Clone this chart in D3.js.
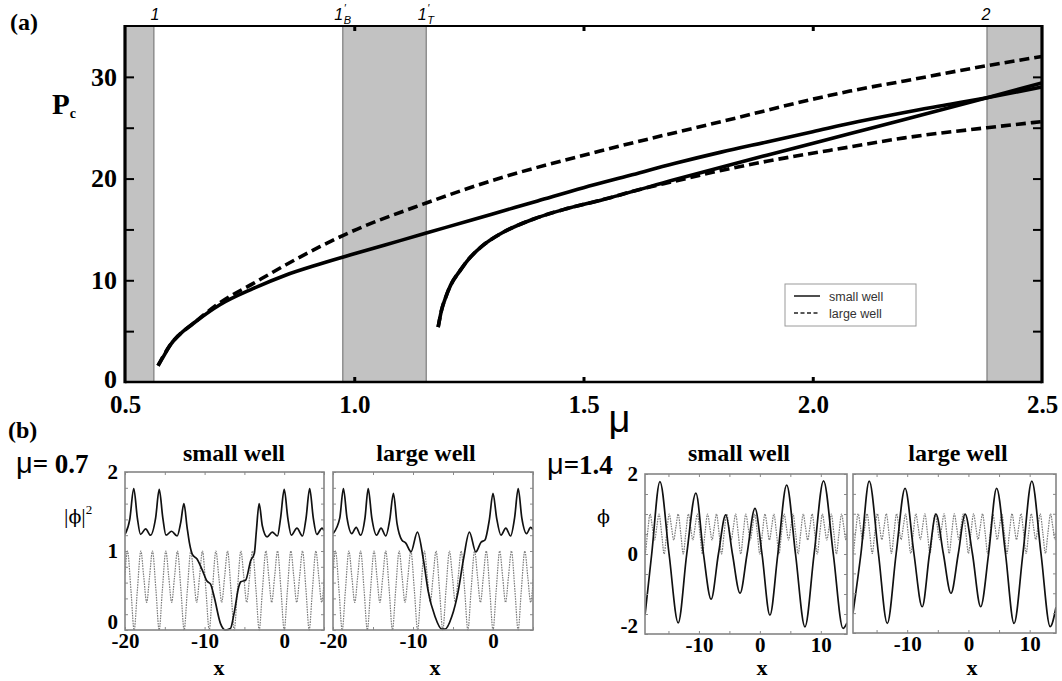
<!DOCTYPE html>
<html><head><meta charset="utf-8">
<script src="https://cdn.jsdelivr.net/npm/d3@7"></script>
<style>
body{margin:0;background:#fff;}
svg{display:block;}
</style></head><body>
<svg id="fig" width="1062" height="681"></svg>
<script>
// ---------- panel (a): critical power P_c against chemical potential mu ----------
const muSmall1 = [0.572, 0.585, 0.598, 0.62, 0.653, 0.707, 0.78, 0.85, 0.925, 1.0, 1.1, 1.2, 1.3, 1.4, 1.5, 1.6, 1.7, 1.8, 1.9, 2.0, 2.1, 2.2, 2.3, 2.38, 2.5];
const pcSmall1 = [1.6, 2.6, 3.6, 4.7, 5.9, 7.6, 9.2, 10.5, 11.6, 12.6, 13.9, 15.2, 16.5, 17.8, 19.1, 20.3, 21.5, 22.6, 23.6, 24.6, 25.6, 26.5, 27.3, 27.95, 29.0];
const muSmall2 = [1.183, 1.19, 1.2, 1.21, 1.23, 1.25, 1.28, 1.32, 1.39, 1.46, 1.54, 1.7, 1.9, 2.08, 2.2, 2.38, 2.5];
const pcSmall2 = [5.4, 7.0, 8.4, 9.5, 10.9, 12.1, 13.4, 14.6, 16.0, 17.0, 17.9, 19.9, 22.3, 24.4, 25.8, 27.95, 29.4];
const muLarge1 = [0.572, 0.598, 0.653, 0.707, 0.78, 0.85, 0.925, 0.975, 1.157, 1.3, 1.536, 1.8, 2.081, 2.2, 2.38, 2.5];
const pcLarge1 = [1.6, 3.6, 5.9, 7.8, 9.7, 11.5, 13.3, 14.4, 17.6, 19.8, 22.7, 25.6, 28.6, 29.6, 31.1, 32.0];
const muLarge2 = [1.183, 1.19, 1.2, 1.21, 1.23, 1.25, 1.28, 1.32, 1.39, 1.46, 1.54, 1.62, 1.7, 1.8, 1.9, 2.08, 2.2, 2.38, 2.5];
const pcLarge2 = [5.4, 7.0, 8.4, 9.5, 10.9, 12.1, 13.4, 14.6, 16.0, 17.0, 17.9, 18.9, 19.75, 20.8, 21.7, 23.1, 24.0, 25.0, 25.6];

// shaded mu windows and their markers
const bandFrom = [0.5, 0.975, 2.38];
const bandTo = [0.563, 1.157, 2.5];
const muTickLabels = [0.5, 1.0, 1.5, 2.0, 2.5];
const pcTickLabels = [0, 10, 20, 30];
const pcMinorTicks = [5, 10, 15, 20, 25, 30];
const muMinorTicks = [1.0, 1.5, 2.0];
const legendNames = ["small well", "large well"];

// ---------- panel (b): profiles on the lattice ----------
// lattice potential (dotted), deep wells at multiples of pi, shallow ones in between
const latticeX = [-21.99, -21.59, -21.15, -20.79, -20.42, -20.05, -19.69, -19.25,
  -18.85, -18.45, -18.01, -17.65, -17.28, -16.91, -16.55, -16.11,
  -15.71, -15.31, -14.87, -14.51, -14.14, -13.77, -13.41, -12.97,
  -12.57, -12.17, -11.73, -11.37, -11.00, -10.63, -10.27, -9.83,
  -9.42, -9.02, -8.58, -8.22, -7.85, -7.48, -7.12, -6.68,
  -6.28, -5.88, -5.44, -5.08, -4.71, -4.34, -3.98, -3.54,
  -3.14, -2.74, -2.30, -1.94, -1.57, -1.20, -0.84, -0.40,
  0.00, 0.40, 0.84, 1.20, 1.57, 1.94, 2.30, 2.74,
  3.14, 3.54, 3.98, 4.34, 4.71, 5.08, 5.44, 5.88,
  6.28, 6.68, 7.12, 7.48, 7.85, 8.22, 8.58, 9.02,
  9.42, 9.82, 10.26, 10.62, 10.99, 11.36, 11.72, 12.16,
  12.57, 12.97, 13.41, 13.77, 14.14, 14.51, 14.87, 15.31, 15.71];
const latticeV = [0, 0.5, 1, 0.68, 0.35, 0.68, 1, 0.5,
  0, 0.5, 1, 0.68, 0.35, 0.68, 1, 0.5,
  0, 0.5, 1, 0.68, 0.35, 0.68, 1, 0.5,
  0, 0.5, 1, 0.68, 0.35, 0.68, 1, 0.5,
  0, 0.5, 1, 0.68, 0.35, 0.68, 1, 0.5,
  0, 0.5, 1, 0.68, 0.35, 0.68, 1, 0.5,
  0, 0.5, 1, 0.68, 0.35, 0.68, 1, 0.5,
  0, 0.5, 1, 0.68, 0.35, 0.68, 1, 0.5,
  0, 0.5, 1, 0.68, 0.35, 0.68, 1, 0.5,
  0, 0.5, 1, 0.68, 0.35, 0.68, 1, 0.5,
  0, 0.5, 1, 0.68, 0.35, 0.68, 1, 0.5,
  0, 0.5, 1, 0.68, 0.35, 0.68, 1, 0.5, 0];

// |phi|^2 at mu = 0.7, soliton in a small well
const densSmallX = [-20.0, -19.4, -18.9, -18.45, -18.05, -17.4, -16.8, -16.15, -15.7, -15.25, -14.85, -14.15, -13.45, -13.0, -12.6, -12.2, -11.9, -11.5, -10.95, -10.3, -9.7, -9.25, -8.8, -8.0, -7.4, -6.75, -6.3, -5.7, -5.45, -4.85, -4.2, -3.75, -3.5, -3.15, -2.75, -2.15, -1.5, -0.85, -0.45, 0.0, 0.45, 0.9, 1.6, 2.3, 2.75, 3.2, 3.65, 4.1, 4.75, 5.0];
const densSmallY = [1.21, 1.40, 1.79, 1.42, 1.21, 1.28, 1.20, 1.42, 1.78, 1.42, 1.20, 1.25, 1.19, 1.36, 1.60, 1.30, 1.10, 0.95, 0.90, 0.76, 0.62, 0.58, 0.42, 0.08, 0.0, 0.02, 0.21, 0.55, 0.61, 0.63, 0.88, 0.97, 1.25, 1.60, 1.32, 1.18, 1.24, 1.19, 1.42, 1.78, 1.42, 1.20, 1.29, 1.19, 1.42, 1.79, 1.42, 1.21, 1.29, 1.26];
// |phi|^2 at mu = 0.7, soliton in a large well
const densLargeX = [-20.0, -19.15, -18.7, -18.25, -17.65, -17.1, -16.55, -16.0, -15.6, -15.15, -14.55, -14.0, -13.4, -12.9, -12.45, -12.0, -11.4, -10.9, -10.25, -9.45, -8.7, -8.1, -7.25, -6.4, -6.0, -5.15, -4.35, -3.7, -2.95, -2.15, -1.5, -1.0, -0.45, 0.0, 0.45, 1.0, 1.6, 2.2, 2.7, 3.15, 3.6, 4.2, 4.7, 5.0];
const densLargeY = [1.22, 1.42, 1.79, 1.42, 1.22, 1.30, 1.20, 1.42, 1.79, 1.42, 1.20, 1.29, 1.19, 1.40, 1.73, 1.35, 1.14, 1.10, 0.99, 1.24, 0.89, 0.49, 0.17, 0.01, 0.01, 0.17, 0.49, 0.89, 1.24, 0.99, 1.11, 1.14, 1.40, 1.73, 1.42, 1.20, 1.29, 1.19, 1.42, 1.79, 1.42, 1.22, 1.30, 1.27];
// phi at mu = 1.4, small well
const waveSmallX = [-18.85, -17.75, -16.4, -14.9, -13.4, -12.0, -10.5, -9.25, -8.0, -6.8, -5.6, -4.5, -3.25, -2.1, -0.8, 0.35, 1.65, 2.95, 4.4, 5.85, 7.4, 8.9, 10.45, 12.05, 13.65, 14.3];
const waveSmallY = [-1.53, 0.0, 1.81, 0.0, -1.72, 0.0, 1.52, 0.0, -1.13, 0.0, 0.98, 0.0, -0.98, 0.0, 1.14, 0.0, -1.53, 0.0, 1.72, 0.0, -1.82, 0.0, 1.83, 0.0, -1.86, -1.72];
// phi at mu = 1.4, large well
const waveLargeX = [-18.85, -17.55, -16.2, -14.7, -13.25, -11.8, -10.35, -8.9, -7.55, -6.35, -5.3, -4.1, -2.85, -1.65, -0.55, 0.65, 2.0, 3.3, 4.6, 6.05, 7.45, 8.9, 10.35, 11.85, 13.35, 14.3];
const waveLargeY = [-1.50, 0.0, 1.82, 0.0, -1.76, 0.0, 1.64, 0.0, -1.34, 0.0, 0.99, 0.0, -1.0, 0.0, 0.99, 0.0, -1.34, 0.0, 1.64, 0.0, -1.76, 0.0, 1.82, 0.0, -1.84, -1.35];

const SERIF = '"Liberation Serif","Times New Roman",Times,serif';
const SANS = '"Liberation Sans",Arial,Helvetica,sans-serif';
const GREEK = '"DejaVu Serif","Liberation Serif",serif';
const svg = d3.select("#fig");

// ================= panel (a) =================
const A = {left: 125, right: 1042, top: 26, bottom: 382};
const x = d3.scaleLinear().domain([0.5, 2.5]).range([A.left, A.right]);
const y = d3.scaleLinear().domain([0, 35]).range([A.bottom, A.top]);
const ga = svg.append("g");

ga.selectAll("rect.band").data(d3.range(bandFrom.length)).join("rect")
  .attr("class", "band")
  .attr("x", i => x(bandFrom[i])).attr("width", i => x(bandTo[i]) - x(bandFrom[i]))
  .attr("y", A.top).attr("height", A.bottom - A.top)
  .attr("fill", "#c2c2c2");
const innerEdges = [bandTo[0], bandFrom[1], bandTo[1], bandFrom[2]];
ga.selectAll("line.edge").data(innerEdges).join("line")
  .attr("class", "edge")
  .attr("x1", d => x(d)).attr("x2", d => x(d)).attr("y1", A.top).attr("y2", A.bottom)
  .attr("stroke", "#7c7c7c").attr("stroke-width", 1.2);

const lineA = d3.line().x(d => x(d[0])).y(d => y(d[1])).curve(d3.curveMonotoneX);
const curves = [
  {mu: muSmall1, pc: pcSmall1, dash: null},
  {mu: muSmall2, pc: pcSmall2, dash: null},
  {mu: muLarge1, pc: pcLarge1, dash: "10,5"},
  {mu: muLarge2, pc: pcLarge2, dash: "10,5"}
];
ga.selectAll("path.curve").data(curves).join("path")
  .attr("class", "curve")
  .attr("d", c => lineA(c.mu.map((m, i) => [m, c.pc[i]])))
  .attr("fill", "none").attr("stroke", "#000").attr("stroke-width", 3.6)
  .attr("stroke-dasharray", c => c.dash);

// frame: heavy side rails, lighter top and bottom
ga.append("line").attr("x1", A.left).attr("x2", A.right).attr("y1", A.top).attr("y2", A.top)
  .attr("stroke", "#000").attr("stroke-width", 2);
ga.append("line").attr("x1", A.left).attr("x2", A.right).attr("y1", A.bottom).attr("y2", A.bottom)
  .attr("stroke", "#000").attr("stroke-width", 2.5);
ga.append("line").attr("x1", A.left).attr("x2", A.left).attr("y1", A.top - 1).attr("y2", A.bottom + 1.2)
  .attr("stroke", "#000").attr("stroke-width", 3.2);
ga.append("line").attr("x1", A.right).attr("x2", A.right).attr("y1", A.top - 1).attr("y2", A.bottom + 1.2)
  .attr("stroke", "#000").attr("stroke-width", 3.2);

function styleTicks(g, w) {
  g.select(".domain").remove();
  g.selectAll(".tick line").attr("stroke", "#000").attr("stroke-width", w);
}
ga.append("g").attr("transform", `translate(${A.left},0)`)
  .call(d3.axisLeft(y).tickValues(pcMinorTicks).tickSize(-9).tickFormat(""))
  .call(g => styleTicks(g, 2));
ga.append("g").attr("transform", `translate(${A.right},0)`)
  .call(d3.axisRight(y).tickValues(pcMinorTicks).tickSize(-9).tickFormat(""))
  .call(g => styleTicks(g, 2));
ga.append("g").attr("transform", `translate(0,${A.top})`)
  .call(d3.axisTop(x).tickValues(muMinorTicks).tickSize(-5).tickFormat(""))
  .call(g => styleTicks(g, 3));
ga.append("g").attr("transform", `translate(0,${A.bottom})`)
  .call(d3.axisBottom(x).tickValues(muMinorTicks).tickSize(-5).tickFormat(""))
  .call(g => styleTicks(g, 3));

function styleLabels(g, size) {
  g.select(".domain").remove();
  g.selectAll("text").attr("font-family", SERIF).attr("font-weight", "bold")
    .attr("font-size", size).attr("fill", "#000");
}
ga.append("g").attr("transform", `translate(${A.left},0)`)
  .call(d3.axisLeft(y).tickValues(pcTickLabels).tickSize(0).tickPadding(8))
  .call(g => styleLabels(g, 26))
  .call(g => g.selectAll("text").attr("dy", d => d === 0 ? "0.2em" : "0.32em"));
ga.append("g").attr("transform", `translate(0,${A.bottom})`)
  .call(d3.axisBottom(x).tickValues(muTickLabels).tickFormat(d3.format(".1f")).tickSize(0).tickPadding(13))
  .call(g => styleLabels(g, 25));

// axis titles
const pLabel = ga.append("text").attr("x", 52).attr("y", 114)
  .attr("font-family", SERIF).attr("font-weight", "bold").attr("font-size", 29);
pLabel.append("tspan").text("P");
pLabel.append("tspan").attr("font-size", 14).attr("dy", 4).text("c");
ga.append("text").attr("x", x(1.5) + 36).attr("y", 432).attr("text-anchor", "middle")
  .attr("font-family", SANS).attr("font-size", 38).text("μ");
ga.append("text").attr("x", 10).attr("y", 30)
  .attr("font-family", SERIF).attr("font-weight", "bold").attr("font-size", 24).text("(a)");

// window markers above the frame
const markerStyle = t => t.attr("font-family", SANS).attr("font-style", "italic").attr("font-size", 16).attr("fill", "#000");
ga.append("text").attr("x", x(bandTo[0]) + 1).attr("y", 20).attr("text-anchor", "middle").call(markerStyle).text("1");
ga.append("text").attr("x", x(bandFrom[2]) - 1).attr("y", 20).attr("text-anchor", "middle").call(markerStyle).text("2");
[[bandFrom[1], "B"], [bandTo[1], "T"]].forEach(([m, s]) => {
  const px = x(m);
  ga.append("text").attr("x", px - 4).attr("y", 20).attr("text-anchor", "middle").call(markerStyle).text("1");
  ga.append("text").attr("x", px + 1).attr("y", 12).attr("text-anchor", "start").call(markerStyle).attr("font-size", 11).text("′");
  ga.append("text").attr("x", px + 1).attr("y", 24).attr("text-anchor", "start").call(markerStyle).attr("font-size", 11).text(s);
});

// legend
const L = {x: 785, y: 284, w: 131, h: 42};
const gl = ga.append("g");
gl.append("rect").attr("x", L.x).attr("y", L.y).attr("width", L.w).attr("height", L.h)
  .attr("fill", "#fff").attr("stroke", "#9a9a9a").attr("stroke-width", 1);
legendNames.forEach((name, i) => {
  const ly = L.y + 12 + i * 17;
  gl.append("line").attr("x1", L.x + 9).attr("x2", L.x + 35).attr("y1", ly).attr("y2", ly)
    .attr("stroke", "#222").attr("stroke-width", 1.6).attr("stroke-dasharray", i ? "4,2.5" : null);
  gl.append("text").attr("x", L.x + 44).attr("y", ly + 4.5)
    .attr("font-family", SANS).attr("font-size", 12.5).attr("fill", "#333").text(name);
});

// ================= panel (b) =================
const subplots = [
  {l: 125, r: 324, t: 472, b: 630, xDom: [-20, 5], yDom: [0, 2], xs: densSmallX, ys: densSmallY,
   xLabels: [-20, -10, 0], yLabels: [0, 1, 2], xStep: 5, yStep: 0.2, title: "small well", titleX: 234, xTitleX: 219, labelPad: 3},
  {l: 333, r: 533, t: 472, b: 630, xDom: [-20, 5], yDom: [0, 2], xs: densLargeX, ys: densLargeY,
   xLabels: [-20, -10, 0], yLabels: [], xStep: 5, yStep: 0.2, title: "large well", titleX: 426, xTitleX: 435, labelPad: 3},
  {l: 645, r: 847, t: 474, b: 634, xDom: [-18.85, 14.3], yDom: [-2, 2], xs: waveSmallX, ys: waveSmallY,
   xLabels: [-10, 0, 10], yLabels: [-2, 0, 2], xStep: 5, yStep: 0.5, title: "small well", titleX: 739, xTitleX: 762, labelPad: 3},
  {l: 853, r: 1056, t: 474, b: 633, xDom: [-18.85, 14.3], yDom: [-2, 2], xs: waveLargeX, ys: waveLargeY,
   xLabels: [-10, 0, 10], yLabels: [], xStep: 5, yStep: 0.5, title: "large well", titleX: 958, xTitleX: 972, labelPad: 3}
];

const fmt = d => (d < 0 ? "-" : "") + Math.abs(d);
subplots.forEach((s, k) => {
  const g = svg.append("g");
  const sx = d3.scaleLinear().domain(s.xDom).range([s.l, s.r]);
  const sy = d3.scaleLinear().domain(s.yDom).range([s.b, s.t]);
  const clip = "clip" + k;
  g.append("clipPath").attr("id", clip).append("rect")
    .attr("x", s.l).attr("y", s.t - 2).attr("width", s.r - s.l).attr("height", s.b - s.t + 4);
  const body = g.append("g").attr("clip-path", `url(#${clip})`);
  const ln = d3.line().x(d => sx(d[0])).y(d => sy(d[1])).curve(d3.curveMonotoneX);
  body.append("path").attr("d", ln(latticeX.map((v, i) => [v, latticeV[i]])))
    .attr("fill", "none").attr("stroke", "#7d7d7d").attr("stroke-width", 1.2).attr("stroke-dasharray", "1.6,1");
  body.append("path").attr("d", ln(s.xs.map((v, i) => [v, s.ys[i]])))
    .attr("fill", "none").attr("stroke", "#111").attr("stroke-width", 1.7);

  // small ticks on all four sides
  const xt = d3.range(Math.ceil(s.xDom[0] / s.xStep) * s.xStep, s.xDom[1] + 1e-9, s.xStep);
  const yt = d3.range(s.yDom[0], s.yDom[1] + 1e-9, s.yStep);
  const tickCol = "#8a8a8a";
  g.append("g").attr("transform", `translate(0,${s.t})`)
    .call(d3.axisTop(sx).tickValues(xt).tickSize(-3).tickFormat(""))
    .call(a => { a.select(".domain").remove(); a.selectAll("line").attr("stroke", tickCol); });
  g.append("g").attr("transform", `translate(0,${s.b})`)
    .call(d3.axisBottom(sx).tickValues(xt).tickSize(-3).tickFormat(""))
    .call(a => { a.select(".domain").remove(); a.selectAll("line").attr("stroke", tickCol); });
  g.append("g").attr("transform", `translate(${s.l},0)`)
    .call(d3.axisLeft(sy).tickValues(yt).tickSize(-3).tickFormat(""))
    .call(a => { a.select(".domain").remove(); a.selectAll("line").attr("stroke", tickCol); });
  g.append("g").attr("transform", `translate(${s.r},0)`)
    .call(d3.axisRight(sy).tickValues(yt).tickSize(-3).tickFormat(""))
    .call(a => { a.select(".domain").remove(); a.selectAll("line").attr("stroke", tickCol); });

  g.append("rect").attr("x", s.l).attr("y", s.t).attr("width", s.r - s.l).attr("height", s.b - s.t)
    .attr("fill", "none").attr("stroke", "#858585").attr("stroke-width", 1.6);

  g.append("g").attr("transform", `translate(0,${s.b})`)
    .call(d3.axisBottom(sx).tickValues(s.xLabels).tickFormat(fmt).tickSize(0).tickPadding(s.labelPad))
    .call(a => styleLabels(a, 21));
  if (s.yLabels.length) {
    g.append("g").attr("transform", `translate(${s.l},0)`)
      .call(d3.axisLeft(sy).tickValues(s.yLabels).tickFormat(fmt).tickSize(0).tickPadding(7))
      .call(a => styleLabels(a, 21))
      .call(a => a.selectAll("text").attr("dy", (d, i) => i === 0 ? "-0.08em" : "0.32em"));
  }
  g.append("text").attr("x", s.titleX).attr("y", 461).attr("text-anchor", "middle")
    .attr("font-family", SERIF).attr("font-weight", "bold").attr("font-size", 24).text(s.title);
  g.append("text").attr("x", s.xTitleX).attr("y", 675).attr("text-anchor", "middle")
    .attr("font-family", SERIF).attr("font-weight", "bold").attr("font-size", 22).text("x");
});

// quantity labels and mu values
const gb = svg.append("g");
gb.append("text").attr("x", 8).attr("y", 438)
  .attr("font-family", SERIF).attr("font-weight", "bold").attr("font-size", 24).text("(b)");
const phi2 = gb.append("text").attr("x", 64).attr("y", 523).attr("fill", "#000");
phi2.append("tspan").attr("font-family", SERIF).attr("font-size", 22).text("|");
phi2.append("tspan").attr("font-family", GREEK).attr("font-size", 19).text("ϕ");
phi2.append("tspan").attr("font-family", SERIF).attr("font-size", 22).text("|");
phi2.append("tspan").attr("font-family", SERIF).attr("font-size", 13).attr("dy", -9).text("2");
gb.append("text").attr("x", 597).attr("y", 523).attr("font-family", GREEK)
  .attr("font-size", 19).attr("fill", "#000").text("ϕ");

[[16, 473, "= 0.7"], [547, 474, "=1.4"]].forEach(([px, py, t]) => {
  const tx = gb.append("text").attr("x", px).attr("y", py).attr("fill", "#000");
  tx.append("tspan").attr("font-family", SANS).attr("font-size", 29).text("μ");
  tx.append("tspan").attr("font-family", SERIF).attr("font-weight", "bold").attr("font-size", 27).text(t);
});
</script>
</body></html>
